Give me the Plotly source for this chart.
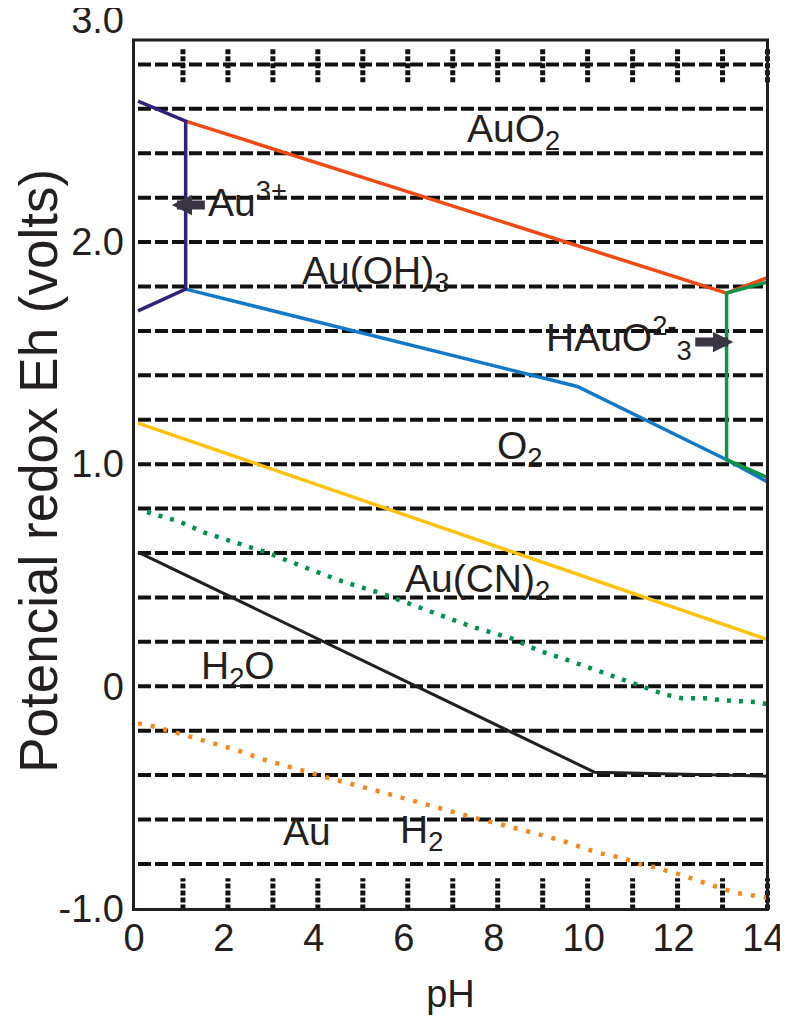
import plotly.graph_objects as go

# ---------------- data (pH, Eh in volts) ----------------
au3_ph = [0.0, 1.06, 1.06, 0.0]
au3_eh = [2.635, 2.545, 1.788, 1.69]

auo2_ph = [1.06, 13.09, 14.0]
auo2_eh = [2.545, 1.77, 1.84]

auoh3_ph = [1.06, 9.77, 13.09, 14.0]
auoh3_eh = [1.788, 1.35, 1.02, 0.92]

hauo3_ph = [14.0, 13.09, 13.09, 14.0]
hauo3_eh = [1.82, 1.77, 1.02, 0.94]

o2_ph = [0.0, 14.0]
o2_eh = [1.185, 0.21]

h2o_ph = [0.0, 10.15, 14.0]
h2o_eh = [0.604, -0.387, -0.405]

aucn_ph = [0.2, 0.9, 1.5, 2.4, 2.9, 3.7, 4.6, 5.4, 6.3, 7.4, 8.3, 8.9, 9.5, 10.4,
           11.2, 11.7, 12.1, 12.6, 13.0, 13.8, 14.0]
aucn_eh = [0.784, 0.743, 0.69, 0.635, 0.60, 0.536, 0.468, 0.419, 0.351, 0.27, 0.216,
           0.162, 0.122, 0.059, 0.0, -0.036, -0.054, -0.054, -0.063, -0.072, -0.081]

h2_ph = [0.0, 0.33, 0.97, 1.59, 2.21, 2.77, 3.39, 4.02, 4.37, 5.3, 6.19, 7.44, 8.7, 9.5,
         10.22, 10.49, 10.87, 11.13, 11.49, 12.1, 12.67, 13.29, 13.93, 14.0]
h2_eh = [-0.167, -0.18, -0.216, -0.252, -0.288, -0.329, -0.365, -0.40, -0.42, -0.47, -0.52,
         -0.59, -0.655, -0.70, -0.75, -0.76, -0.78, -0.80, -0.815, -0.85, -0.89, -0.93,
         -0.95, -0.955]

# axis ticks / labels
ph_tick_vals = [0, 2, 4, 6, 8, 10, 12, 14]
ph_minor_ticks = [1, 2, 3, 4, 5, 6, 7, 8, 9, 10, 11, 12, 13, 14]
eh_tick_vals = [-1.0, 0.0, 1.0, 2.0, 3.0]
eh_tick_text = ["-1.0", "0", "1.0", "2.0", "3.0"]
grid_levels = [-0.8, -0.6, -0.4, -0.2, 0.0, 0.2, 0.4, 0.6, 0.8, 1.0, 1.2, 1.4, 1.6, 1.8,
               2.0, 2.2, 2.4, 2.6, 2.8]

# region labels
label_text = ["AuO<sub>2</sub>", "Au<sup>3+</sup>", "Au(OH)<sub>3</sub>",
              "HAuO<sup>2-</sup><sub>3</sub>", "O<sub>2</sub>", "Au(CN)<sub>2</sub>",
              "H<sub>2</sub>O", "Au", "H<sub>2</sub>"]
label_ph = [8.35, 2.44, 5.29, 10.7, 8.49, 7.54, 2.22, 3.75, 6.31]
label_eh = [2.50, 2.19, 1.86, 1.57, 1.07, 0.47, 0.08, -0.653, -0.66]

# arrows (tail -> tip)
arrow_tail_ph = [1.52, 12.36]
arrow_tip_ph = [0.75, 13.24]
arrow_eh = [2.167, 1.55]

FONT = "Liberation Sans, Arial, Helvetica, sans-serif"
TXT = "#231f20"

fig = go.Figure()

def add_line(x, y, color, width=3.5, dash="solid"):
    fig.add_trace(go.Scatter(x=x, y=y, mode="lines", showlegend=False, hoverinfo="skip",
                             line=dict(color=color, width=width, dash=dash)))

add_line(h2_ph, h2_eh, "#f7861c", 4.5, "4px,9px")
add_line(aucn_ph, aucn_eh, "#00924a", 4.5, "4px,8px")
add_line(h2o_ph, h2o_eh, "#231f20", 3)
add_line(o2_ph, o2_eh, "#ffc20e", 3.5)
add_line(auoh3_ph, auoh3_eh, "#1478c8", 3.5)
add_line(auo2_ph, auo2_eh, "#f04a14", 3.5)
add_line(hauo3_ph, hauo3_eh, "#119447", 3.5)
add_line(au3_ph, au3_eh, "#33207a", 3.5)

shapes = []
# dashed horizontal grid
for g in grid_levels:
    shapes.append(dict(type="line", xref="x", yref="y", x0=0.0, x1=14.0, y0=g, y1=g,
                       layer="below", line=dict(color="#111111", width=4, dash="13px,4px")))
# dotted tick marks inside bottom & top
for t in ph_minor_ticks:
    shapes.append(dict(type="line", xref="x", yref="y", x0=t, x1=t, y0=-1.005, y1=-0.865,
                       layer="below", line=dict(color="#111111", width=5, dash="5px,2px")))
    shapes.append(dict(type="line", xref="x", yref="y", x0=t, x1=t, y0=2.72, y1=2.875,
                       layer="below", line=dict(color="#111111", width=5, dash="5px,2px")))
# frame
shapes.append(dict(type="rect", xref="x", yref="y", x0=-0.1, x1=14.0, y0=-1.005, y1=2.91,
                   line=dict(color=TXT, width=3), fillcolor="rgba(0,0,0,0)"))

annotations = []
for t, x, y in zip(label_text, label_ph, label_eh):
    annotations.append(dict(x=x, y=y, xref="x", yref="y", text=t, showarrow=False,
                            font=dict(family=FONT, size=39, color=TXT)))
for tx, hx, y in zip(arrow_tail_ph, arrow_tip_ph, arrow_eh):
    annotations.append(dict(x=hx, y=y, ax=tx, ay=y, xref="x", yref="y", axref="x", ayref="y",
                            text="", showarrow=True, arrowhead=2, arrowsize=0.45,
                            arrowwidth=9, arrowcolor="#3a3542", standoff=0))
# y axis title
annotations.append(dict(x=-0.142, y=0.496, xref="paper", yref="paper",
                        text="Potencial redox Eh (volts)", textangle=-90, showarrow=False,
                        xanchor="center", yanchor="middle",
                        font=dict(family=FONT, size=53, color=TXT)))

# page body adds an 8px margin, so the figure is 8px smaller than the window
fig.update_layout(
    width=780, height=1018,
    margin=dict(l=121.4, r=15.6, t=12, b=111.3, autoexpand=False),
    paper_bgcolor="white", plot_bgcolor="white",
    font=dict(family=FONT, color=TXT),
    shapes=shapes, annotations=annotations,
    xaxis=dict(range=[-0.2, 14.1], tickvals=ph_tick_vals, ticks="", showgrid=False,
               zeroline=False, showline=False, ticklabelstandoff=-3, ticklabelshift=-4,
               ticklabeloverflow="allow",
               tickfont=dict(family=FONT, size=38, color=TXT),
               title=dict(text="pH", font=dict(family=FONT, size=38, color=TXT), standoff=22)),
    yaxis=dict(range=[-1.03, 3.0], tickvals=eh_tick_vals, ticktext=eh_tick_text, ticks="",
               showgrid=False, zeroline=False, showline=False, ticklabelstandoff=4,
               ticklabeloverflow="allow",
               tickfont=dict(family=FONT, size=38, color=TXT)),
)

fig.write_html("out.html")
